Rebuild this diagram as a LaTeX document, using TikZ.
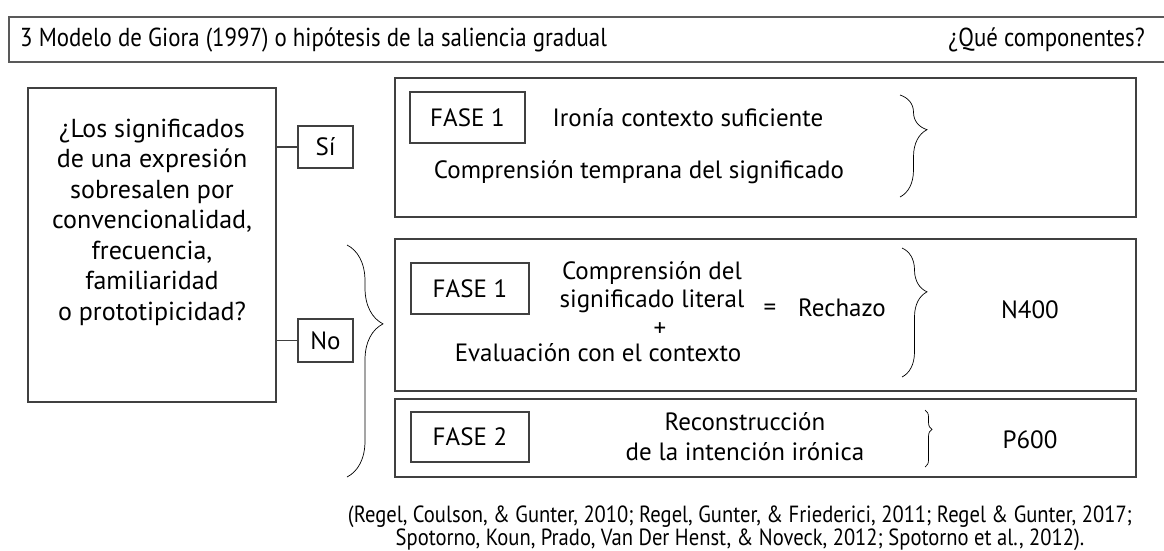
\documentclass[tikz,border=0pt]{standalone}
\usepackage{fontspec}
\setmainfont{PT Sans}
\newfontfamily\condfont[FakeStretch=0.88]{PT Sans}
\usetikzlibrary{decorations.pathreplacing}
\begin{document}
\begin{tikzpicture}[x=1pt,y=-1pt,
  box/.style={draw=black!75, line width=1.1pt, inner sep=0pt},
  txt/.style={inner sep=0pt, font=\fontsize{25}{30}\selectfont, align=center},
  ctxt/.style={inner sep=0pt, font=\condfont\fontsize{26}{30}\selectfont, align=center},
  brc/.style={decorate, decoration={brace, amplitude=#1, aspect=0.34}, line width=0.7pt},
  conn/.style={draw=black!75, line width=1.1pt},
]
\useasboundingbox (0,0) rectangle (1164,550);
% top bar
\draw[draw=black!65, line width=1.4pt] (1170,17) -- (9,17) -- (9,62) -- (1170,62);
\node[ctxt, anchor=west] (title) at (20,40) {3 Modelo de Giora (1997) o hipótesis de la saliencia gradual};
\node[ctxt, anchor=east] (comp) at (1145,40) {¿Qué componentes?};
% question box
\node[box, minimum width=248pt, minimum height=314pt] (qbox) at (152,245) {};
\node[txt, font=\fontsize{26}{30.5}\selectfont] (qtext) at (152,222) {¿Los significados\\de una expresión\\sobresalen por\\convencionalidad,\\frecuencia,\\familiaridad\\o prototipicidad?};
\node[box, txt, minimum width=55pt, minimum height=42pt] (si) at (325.5,147) {Sí};
\node[box, txt, minimum width=55pt, minimum height=43pt] (no) at (325.5,340.5) {No};
\draw[conn] (qbox.east |- si.west) -- (si.west);
\draw[conn] (qbox.east |- no.west) -- (no.west);
% left brace
\coordinate (lbt) at (347,245);
\coordinate (lbb) at (347,477);
\draw[brc=36pt] (lbt) -- (lbb);
% right boxes
\node[box, minimum width=741pt, minimum height=139pt] (b1) at (765.5,147.5) {};
\node[box, minimum width=741pt, minimum height=152pt] (b2) at (765.5,315) {};
\node[box, minimum width=741pt, minimum height=78pt] (b3) at (765.5,438) {};
% box 1
\node[box, txt, minimum width=115pt, minimum height=51pt] (f1) at (467.5,117.5) {FASE 1};
\node[txt] (ironia) at (688,118) {Ironía contexto suficiente};
\node[txt] (temprana) at (639,172) {Comprensión temprana del significado};
\coordinate (b1t) at (900,95);
\coordinate (b1b) at (900,197);
\draw[brc=27pt] (b1t) -- (b1b);
% box 2
\node[box, txt, minimum width=118pt, minimum height=51pt] (f2) at (470,288.5) {FASE 1};
\node[txt, font=\fontsize{25}{28}\selectfont] (lit) at (652,287) {Comprensión del\\significado literal};
\node[txt] (plus) at (660,330) {+};
\node[txt] (eval) at (598,353) {Evaluación con el contexto};
\node[txt] (eq) at (770,310) {=};
\node[txt] (rech) at (842,308) {Rechazo};
\node[txt] (n400) at (1030,310) {N400};
\coordinate (b2t) at (902,248);
\coordinate (b2b) at (902,377);
\draw[brc=25pt] (b2t) -- (b2b);
% box 3
\node[box, txt, minimum width=118pt, minimum height=50pt] (f3) at (470,437) {FASE 2};
\node[txt] (recon) at (745,437) {Reconstrucción\\de la intención irónica};
\node[txt] (p600) at (1030,440) {P600};
\coordinate (b3t) at (925,410);
\coordinate (b3b) at (925,467);
\draw[brc=7pt] (b3t) -- (b3b);
% citation
\node[ctxt, font=\condfont\fontsize{23.4}{23}\selectfont] (cite) at (740,528) {(Regel, Coulson, \& Gunter, 2010; Regel, Gunter, \& Friederici, 2011; Regel \& Gunter, 2017;\\Spotorno, Koun, Prado, Van Der Henst, \& Noveck, 2012; Spotorno et al., 2012).};
\end{tikzpicture}
\end{document}
